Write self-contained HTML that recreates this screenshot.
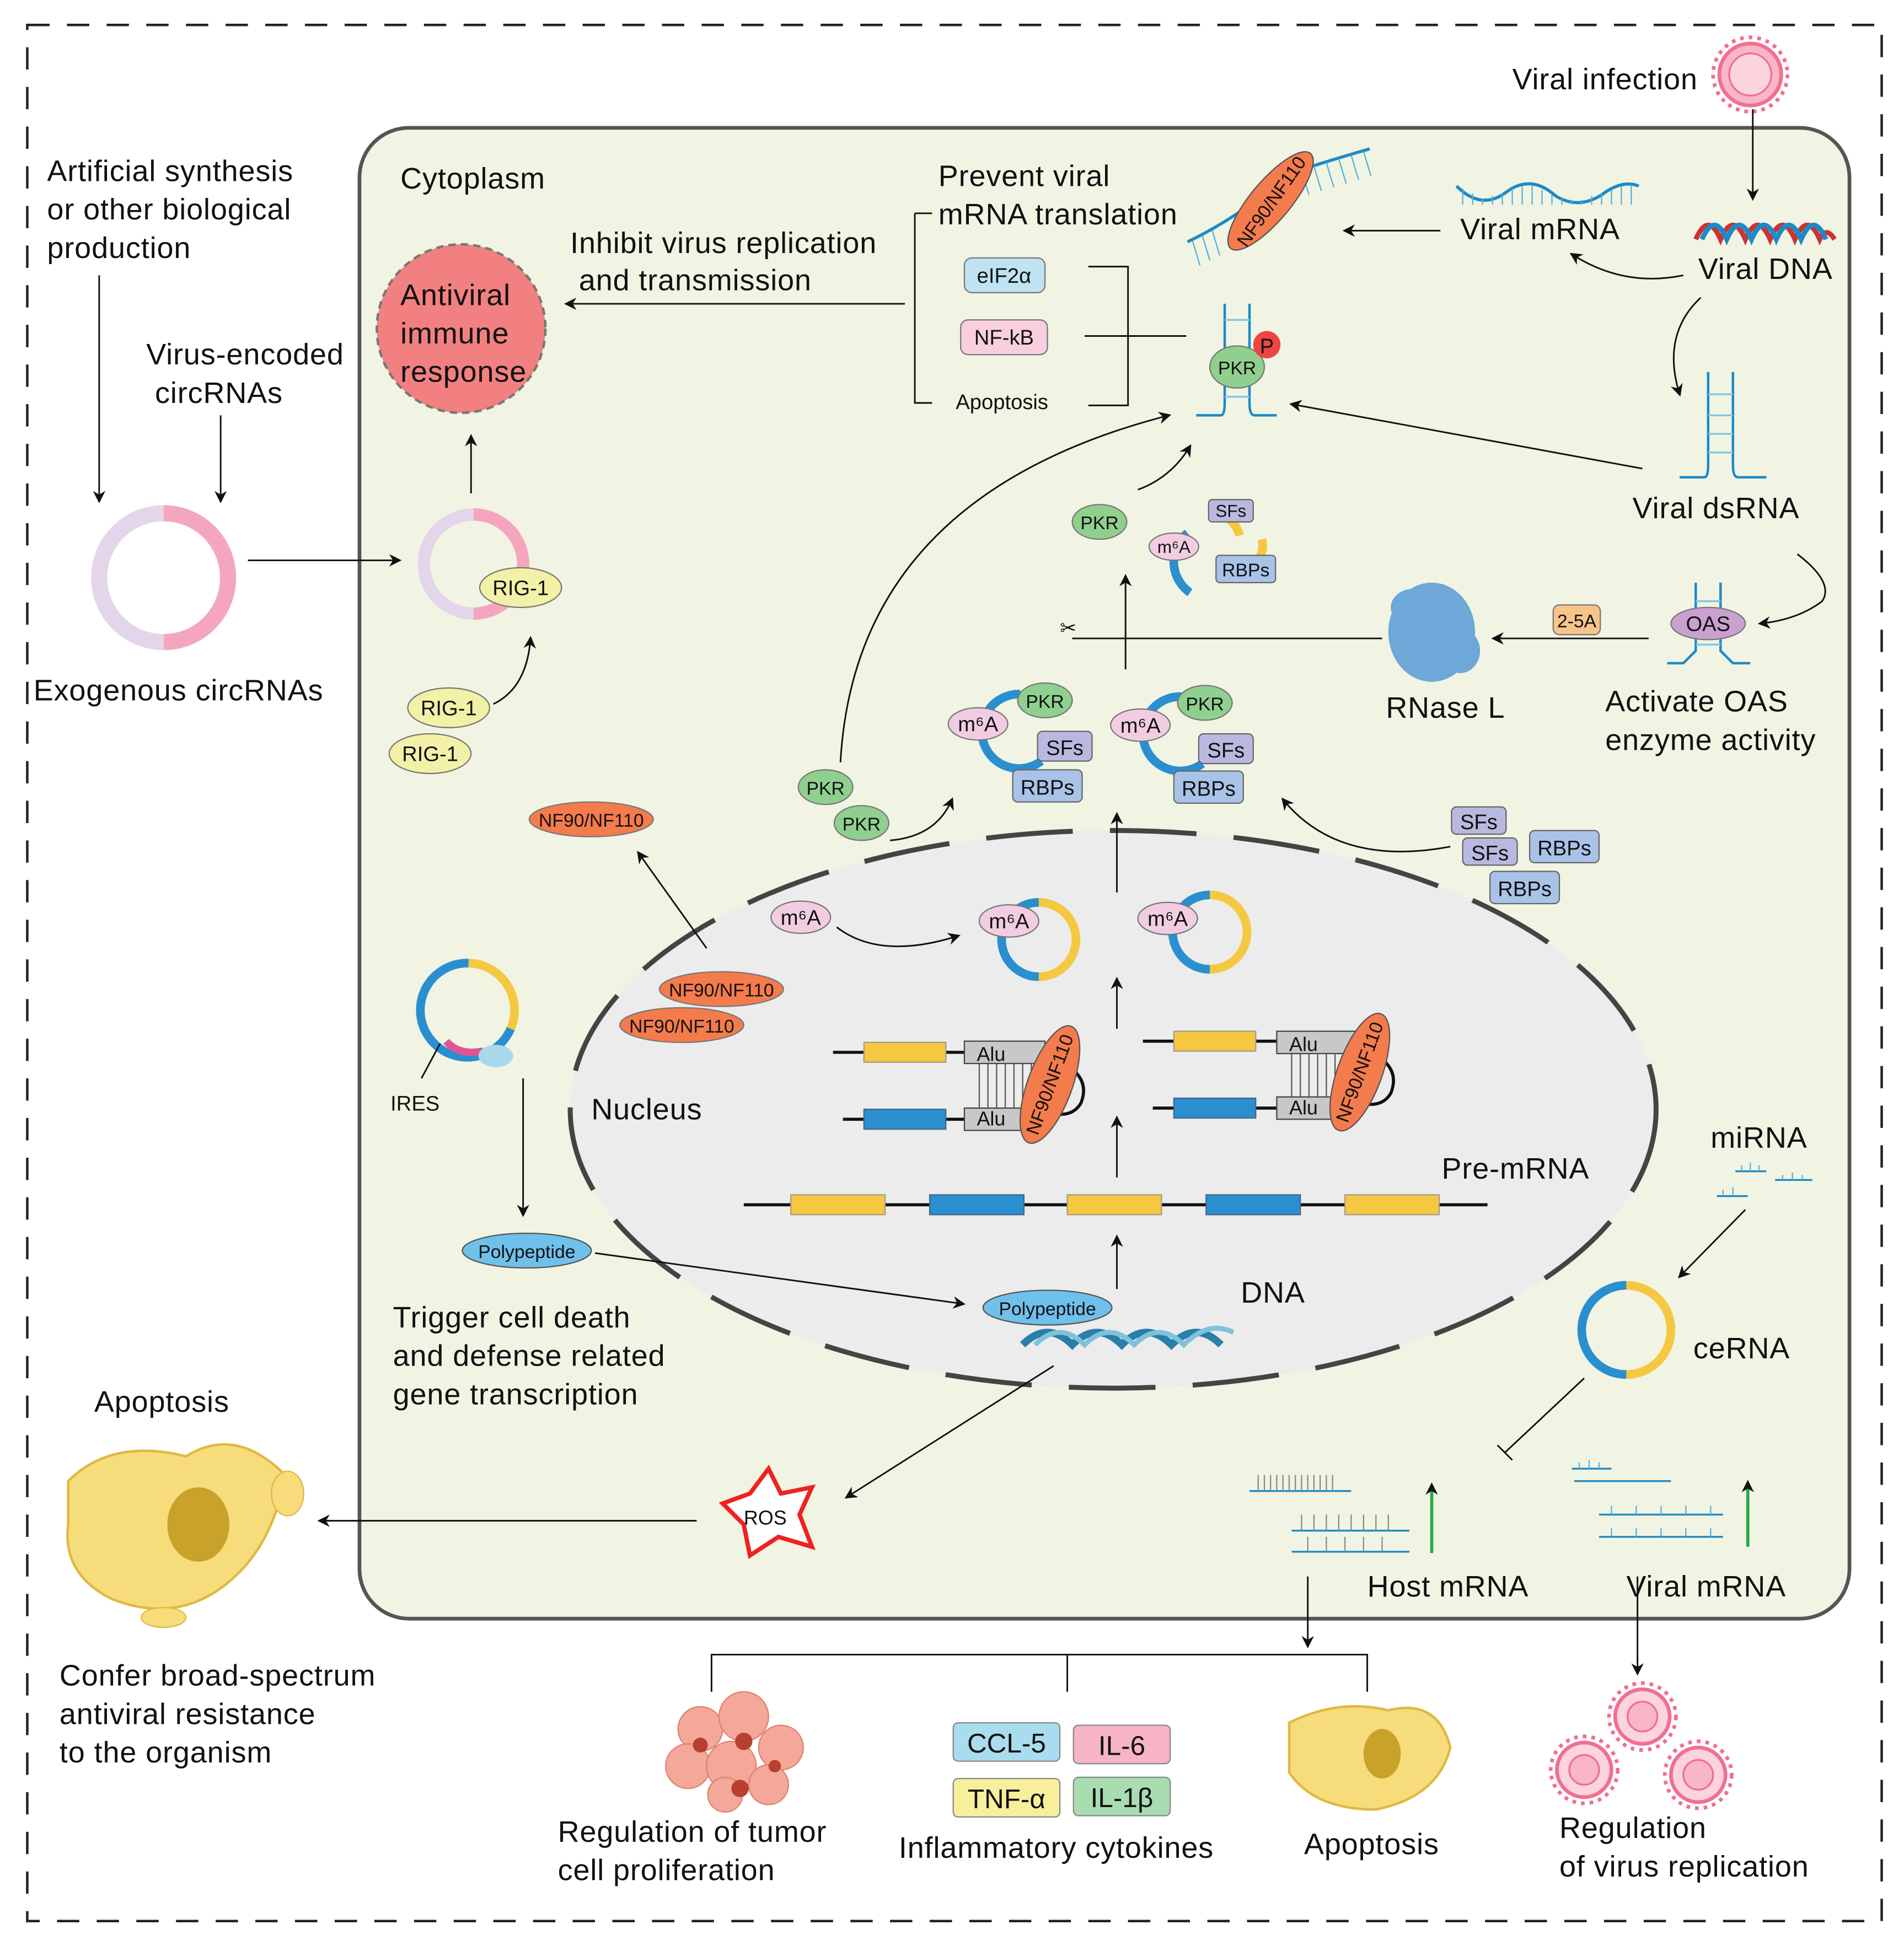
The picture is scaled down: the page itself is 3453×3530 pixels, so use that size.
<!DOCTYPE html>
<html><head><meta charset="utf-8"><style>
html,body{margin:0;padding:0;background:#fff}
svg{display:block}
text{font-family:"Liberation Sans",sans-serif;fill:#111}
.big text{font-size:24px;letter-spacing:0.4px}
</style></head><body>
<svg width="3453" height="3530" viewBox="0 0 1536 1570" xmlns="http://www.w3.org/2000/svg">
<defs>
<marker id="ar" markerWidth="10" markerHeight="10" refX="8" refY="5" orient="auto" markerUnits="userSpaceOnUse"><path d="M0,0 L10,5 L0,10 L3,5z" fill="#111"/></marker>
</defs>
<rect x="0" y="0" width="1536" height="1570" fill="#fff"/>
<rect x="22" y="20" width="1496" height="1530" fill="none" stroke="#222" stroke-width="2" stroke-dasharray="18,14"/>
<rect x="290" y="103" width="1202" height="1203" rx="40" fill="#f2f4e3" stroke="#555" stroke-width="3"/>
<ellipse cx="898" cy="895" rx="438" ry="225" fill="#ececec" stroke="#444" stroke-width="4" stroke-dasharray="70,30"/>

<g class="big">
<text x="38" y="146">Artificial synthesis</text>
<text x="38" y="177">or other biological</text>
<text x="38" y="208">production</text>
<text x="118" y="294">Virus-encoded</text>
<text x="125" y="325">circRNAs</text>
<text x="27" y="565">Exogenous circRNAs</text>
<text x="323" y="152">Cytoplasm</text>
<text x="460" y="204">Inhibit virus replication</text>
<text x="467" y="234">and transmission</text>
<text x="757" y="150">Prevent viral</text>
<text x="757" y="181">mRNA translation</text>
<text x="1220" y="72">Viral infection</text>
<text x="1178" y="193">Viral mRNA</text>
<text x="1370" y="225">Viral DNA</text>
<text x="1317" y="418">Viral dsRNA</text>
<text x="1118" y="579">RNase L</text>
<text x="1295" y="574">Activate OAS</text>
<text x="1295" y="605">enzyme activity</text>
<text x="477" y="903">Nucleus</text>
<text x="1163" y="951">Pre-mRNA</text>
<text x="1001" y="1051">DNA</text>
<text x="1380" y="926">miRNA</text>
<text x="1366" y="1096">ceRNA</text>
<text x="317" y="1071">Trigger cell death</text>
<text x="317" y="1102">and defense related</text>
<text x="317" y="1133">gene transcription</text>
<text x="76" y="1139">Apoptosis</text>
<text x="48" y="1360">Confer broad-spectrum</text>
<text x="48" y="1391">antiviral resistance</text>
<text x="48" y="1422">to the organism</text>
<text x="1103" y="1288">Host mRNA</text>
<text x="1312" y="1288">Viral mRNA</text>
<text x="450" y="1486">Regulation of tumor</text>
<text x="450" y="1517">cell proliferation</text>
<text x="725" y="1499">Inflammatory cytokines</text>
<text x="1052" y="1496">Apoptosis</text>
<text x="1258" y="1483">Regulation</text>
<text x="1258" y="1514">of virus replication</text>
</g>
<text x="771" y="330" font-size="17">Apoptosis</text>
<text x="315" y="896" font-size="17">IRES</text>

<circle cx="372" cy="265" r="68" fill="#f28080" stroke="#777" stroke-width="2" stroke-dasharray="6,4"/>
<g class="big"><text x="323" y="246">Antiviral</text><text x="323" y="277">immune</text><text x="323" y="308">response</text></g>

<path d="M132,414 A52,52 0 0,1 132,518" fill="none" stroke="#f4a6bf" stroke-width="13"/>
<path d="M132,518 A52,52 0 0,1 132,414" fill="none" stroke="#e3d6ea" stroke-width="13"/>
<path d="M382,415 A40,40 0 0,1 382,495" fill="none" stroke="#f4a6bf" stroke-width="10"/>
<path d="M382,495 A40,40 0 0,1 382,415" fill="none" stroke="#e3d6ea" stroke-width="10"/>
<line x1="80" y1="222" x2="80" y2="404" stroke="#111" stroke-width="1.3" marker-end="url(#ar)"/>
<line x1="178" y1="335" x2="178" y2="404" stroke="#111" stroke-width="1.3" marker-end="url(#ar)"/>
<line x1="200" y1="452" x2="322" y2="452" stroke="#111" stroke-width="1.3" marker-end="url(#ar)"/>
<line x1="380" y1="398" x2="380" y2="352" stroke="#111" stroke-width="1.3" marker-end="url(#ar)"/>
<line x1="730" y1="245" x2="457" y2="245" stroke="#111" stroke-width="1.3" marker-end="url(#ar)"/>
<path d="M398,568 Q425,555 428,515" fill="none" stroke="#111" stroke-width="1.3" marker-end="url(#ar)"/>

<g font-size="17" text-anchor="middle">
<ellipse cx="420" cy="474" rx="33" ry="16" fill="#f3f0a8" stroke="#777"/><text x="420" y="480">RIG-1</text>
<ellipse cx="362" cy="571" rx="33" ry="16" fill="#f3f0a8" stroke="#777"/><text x="362" y="577">RIG-1</text>
<ellipse cx="347" cy="608" rx="33" ry="16" fill="#f3f0a8" stroke="#777"/><text x="347" y="614">RIG-1</text>
<rect x="778" y="208" width="65" height="28" rx="6" fill="#bfe3f3" stroke="#777"/><text x="810" y="228">eIF2α</text>
<rect x="775" y="258" width="70" height="28" rx="6" fill="#f9cfe0" stroke="#777"/><text x="810" y="278">NF-kB</text>
<ellipse cx="477" cy="661" rx="50" ry="14" fill="#f47b4c" stroke="#777"/><text x="477" y="667" font-size="15">NF90/NF110</text>
<ellipse cx="582" cy="798" rx="50" ry="14" fill="#f47b4c" stroke="#777"/><text x="582" y="804" font-size="15">NF90/NF110</text>
<ellipse cx="550" cy="827" rx="50" ry="14" fill="#f47b4c" stroke="#777"/><text x="550" y="833" font-size="15">NF90/NF110</text>
<ellipse cx="887" cy="421" rx="22" ry="14" fill="#8fd08f" stroke="#777"/><text x="887" y="427" font-size="15">PKR</text>
<ellipse cx="666" cy="635" rx="22" ry="14" fill="#8fd08f" stroke="#777"/><text x="666" y="641" font-size="15">PKR</text>
<ellipse cx="695" cy="664" rx="22" ry="14" fill="#8fd08f" stroke="#777"/><text x="695" y="670" font-size="15">PKR</text>
<rect x="1253" y="488" width="38" height="24" rx="5" fill="#f8c48a" stroke="#777"/><text x="1272" y="506" font-size="15">2-5A</text>
<ellipse cx="425" cy="1009" rx="52" ry="14" fill="#6fc0ea" stroke="#555"/><text x="425" y="1015" font-size="15">Polypeptide</text>
<ellipse cx="646" cy="740" rx="24" ry="13" fill="#f2cde2" stroke="#777"/><text x="646" y="746">m⁶A</text>
</g>

<g stroke="#1d8ac7" stroke-width="2" fill="none">
<path d="M965,335 L985,335 Q988,335 988,325 L988,245 M1008,245 L1008,325 Q1008,335 1012,335 L1030,335"/>
<path d="M1355,385 L1375,385 Q1378,385 1378,375 L1378,300 M1398,300 L1398,375 Q1398,385 1402,385 L1425,385"/>
<path d="M1345,535 L1358,535 L1368,525 L1368,470 M1388,470 L1388,525 L1398,535 L1412,535"/>
</g>
<g stroke="#7cc8e6" stroke-width="1.5">
<line x1="988" y1="258" x2="1008" y2="258"/><line x1="988" y1="320" x2="1008" y2="320"/>
<line x1="1378" y1="318" x2="1398" y2="318"/><line x1="1378" y1="335" x2="1398" y2="335"/><line x1="1378" y1="350" x2="1398" y2="350"/><line x1="1378" y1="365" x2="1398" y2="365"/>
<line x1="1368" y1="485" x2="1388" y2="485"/><line x1="1368" y1="520" x2="1388" y2="520"/>
</g>
<ellipse cx="998" cy="296" rx="22" ry="17" fill="#8fd08f" stroke="#777"/><text x="998" y="302" font-size="15" text-anchor="middle">PKR</text>
<circle cx="1022" cy="278" r="11" fill="#ee4444"/><text x="1022" y="285" font-size="17" text-anchor="middle">P</text>
<ellipse cx="1378" cy="503" rx="30" ry="13" fill="#c9a0d0" stroke="#777"/><text x="1378" y="509" font-size="17" text-anchor="middle">OAS</text>

<path d="M1175,150 Q1195,170 1215,155 Q1235,140 1255,158 Q1275,170 1295,155 Q1310,145 1322,150" fill="none" stroke="#1d8ac7" stroke-width="2.5"/>
<g stroke="#4fb1dd" stroke-width="1"><path d="M1180,152V165 M1188,156V165 M1196,160V165 M1204,158V165 M1212,156V165 M1220,152V165 M1228,150V165 M1236,150V165 M1244,153V165 M1252,157V165 M1260,160V165 M1268,161V165 M1276,161V165 M1284,158V165 M1292,156V165 M1300,153V165 M1308,150V165 M1316,149V165"/></g>
<path d="M958,195 Q1000,175 1040,140 Q1070,130 1105,120" fill="none" stroke="#1d8ac7" stroke-width="2.5"/>
<g stroke="#4fb1dd" stroke-width="1"><path d="M962,194l6,20 M970,190l6,20 M978,186l6,20 M1050,137l6,20 M1060,134l6,20 M1070,131l6,20 M1080,128l6,20 M1090,125l6,20 M1100,122l6,20"/></g>
<ellipse cx="1025" cy="162" rx="16" ry="50" transform="rotate(40 1025 162)" fill="#f47b4c" stroke="#555"/>
<text x="1025" y="168" font-size="15" text-anchor="middle" transform="rotate(-55 1025 162)">NF90/NF110</text>
<path d="M1368,193 Q1378,170 1388,193 Q1398,170 1408,193 Q1418,170 1428,193 Q1438,170 1448,193 Q1458,170 1468,193 Q1473,182 1480,193" fill="none" stroke="#c33" stroke-width="4"/>
<path d="M1373,193 Q1383,170 1393,193 Q1403,170 1413,193 Q1423,170 1433,193 Q1443,170 1453,193 Q1463,170 1473,193" fill="none" stroke="#1d8ac7" stroke-width="4"/>
<g fill="none" stroke="#f07090" stroke-width="3" stroke-dasharray="3,4">
<circle cx="1412" cy="60" r="30"/><circle cx="1325" cy="1385" r="27"/><circle cx="1278" cy="1428" r="27"/><circle cx="1370" cy="1432" r="27"/>
</g>
<circle cx="1412" cy="60" r="25" fill="#f9b6c6" stroke="#f07090" stroke-width="3"/>
<circle cx="1412" cy="60" r="17" fill="#fcd4de" stroke="#f07090" stroke-width="1.5"/>
<g fill="#fcd4de" stroke="#f07090" stroke-width="3">
<circle cx="1325" cy="1385" r="22"/><circle cx="1278" cy="1428" r="22"/><circle cx="1370" cy="1432" r="22"/>
</g>
<g fill="#f9b6c6" stroke="#f07090" stroke-width="1.5"><circle cx="1325" cy="1385" r="12"/><circle cx="1278" cy="1428" r="12"/><circle cx="1370" cy="1432" r="12"/></g>

<g stroke="#111" stroke-width="1.3" fill="none">
<line x1="1414" y1="88" x2="1414" y2="160" marker-end="url(#ar)"/>
<line x1="1162" y1="186" x2="1085" y2="186" marker-end="url(#ar)"/>
<path d="M1358,222 Q1310,232 1268,205" marker-end="url(#ar)"/>
<path d="M1372,240 Q1340,270 1355,318" marker-end="url(#ar)"/>
<line x1="1325" y1="378" x2="1042" y2="326" marker-end="url(#ar)"/>
<path d="M1450,447 Q1480,470 1470,485 Q1450,500 1420,503" marker-end="url(#ar)"/>
<line x1="1330" y1="515" x2="1205" y2="515" marker-end="url(#ar)"/>
<line x1="1115" y1="515" x2="865" y2="515"/>
<path d="M738,172 L738,325 L752,325 M738,172 L752,172"/>
<path d="M878,215 L910,215 L910,327 L878,327 M875,271 L957,271"/>
<path d="M678,615 Q690,400 943,335" marker-end="url(#ar)"/>
<path d="M918,395 Q945,385 960,360" marker-end="url(#ar)"/>
<line x1="908" y1="540" x2="908" y2="465" marker-end="url(#ar)"/>
<line x1="901" y1="720" x2="901" y2="657" marker-end="url(#ar)"/>
<path d="M718,678 Q755,675 768,645" marker-end="url(#ar)"/>
<path d="M1170,683 Q1080,700 1035,645" marker-end="url(#ar)"/>
<line x1="570" y1="765" x2="515" y2="688" marker-end="url(#ar)"/>
<path d="M675,748 Q710,775 773,755" marker-end="url(#ar)"/>
<line x1="901" y1="830" x2="901" y2="790" marker-end="url(#ar)"/>
<line x1="901" y1="950" x2="901" y2="902" marker-end="url(#ar)"/>
<line x1="901" y1="1040" x2="901" y2="998" marker-end="url(#ar)"/>
<line x1="422" y1="870" x2="422" y2="980" marker-end="url(#ar)"/>
<line x1="480" y1="1011" x2="777" y2="1052" marker-end="url(#ar)"/>
<line x1="850" y1="1102" x2="683" y2="1208" marker-end="url(#ar)"/>
<line x1="562" y1="1227" x2="258" y2="1227" marker-end="url(#ar)"/>
<line x1="1408" y1="976" x2="1355" y2="1030" marker-end="url(#ar)"/>
<path d="M1278,1112 L1214,1172 M1208,1166 L1220,1178"/>
<line x1="1055" y1="1272" x2="1055" y2="1328" marker-end="url(#ar)"/>
<line x1="1321" y1="1272" x2="1321" y2="1350" marker-end="url(#ar)"/>
<path d="M574,1365 L574,1335 L1103,1335 L1103,1365 M861,1335 L861,1365"/>
</g>
<g stroke="#22aa44" stroke-width="2.5"><line x1="1155" y1="1253" x2="1155" y2="1198" marker-end="url(#ar)"/><line x1="1410" y1="1248" x2="1410" y2="1196" marker-end="url(#ar)"/></g>

<g fill="#6ea8d8"><ellipse cx="1155" cy="510" rx="35" ry="40"/><ellipse cx="1140" cy="490" rx="18" ry="15"/><ellipse cx="1178" cy="525" rx="16" ry="18"/></g>
<text x="855" y="512" font-size="16">✂</text>

<g fill="none" stroke-width="7">
<path d="M823,560 A30,30 0 1,0 840,614" stroke="#2a8fd0"/>
<path d="M953,562 A30,30 0 1,0 970,616" stroke="#2a8fd0"/>
<path d="M838,728 A30,30 0 0,1 838,788" stroke="#f5c842"/><path d="M838,788 A30,30 0 0,1 838,728" stroke="#2a8fd0"/>
<path d="M976,722 A30,30 0 0,1 976,782" stroke="#f5c842"/><path d="M976,782 A30,30 0 0,1 976,722" stroke="#2a8fd0"/>
<path d="M378,777 A38,38 0 0,1 412,830" stroke="#f5c842"/><path d="M412,830 A38,38 0 1,1 378,777" stroke="#2a8fd0"/>
<path d="M1312,1037 A36,36 0 0,1 1312,1109" stroke="#f5c842"/><path d="M1312,1109 A36,36 0 0,1 1312,1037" stroke="#2a8fd0"/>
<path d="M958,430 A30,30 0 0,0 960,478" stroke="#2a8fd0"/><path d="M985,415 A25,25 0 0,1 1000,432" stroke="#f5c842"/><path d="M1018,435 A20,20 0 0,1 1012,455" stroke="#f5c842"/>
</g>
<line x1="355" y1="842" x2="340" y2="870" stroke="#111" stroke-width="1.3"/>
<path d="M360,840 Q370,852 390,848" stroke="#e05590" stroke-width="6" fill="none"/>
<ellipse cx="400" cy="852" rx="14" ry="9" fill="#a8d8ea"/>

<g font-size="17" text-anchor="middle">
<ellipse cx="843" cy="565" rx="22" ry="14" fill="#8fd08f" stroke="#777"/><text x="843" y="571" font-size="15">PKR</text>
<ellipse cx="972" cy="567" rx="22" ry="14" fill="#8fd08f" stroke="#777"/><text x="972" y="573" font-size="15">PKR</text>
<ellipse cx="789" cy="584" rx="24" ry="13" fill="#f2cde2" stroke="#777"/><text x="789" y="590">m⁶A</text>
<ellipse cx="920" cy="585" rx="24" ry="13" fill="#f2cde2" stroke="#777"/><text x="920" y="591">m⁶A</text>
<ellipse cx="814" cy="743" rx="24" ry="13" fill="#f2cde2" stroke="#777"/><text x="814" y="749">m⁶A</text>
<ellipse cx="942" cy="741" rx="24" ry="13" fill="#f2cde2" stroke="#777"/><text x="942" y="747">m⁶A</text>
<ellipse cx="947" cy="441" rx="20" ry="11" fill="#f2cde2" stroke="#777"/><text x="947" y="446" font-size="14">m⁶A</text>
<rect x="837" y="590" width="44" height="24" rx="4" fill="#b9b9e0" stroke="#666"/><text x="859" y="609">SFs</text>
<rect x="967" y="592" width="44" height="24" rx="4" fill="#b9b9e0" stroke="#666"/><text x="989" y="611">SFs</text>
<rect x="817" y="621" width="56" height="26" rx="4" fill="#a9c3e8" stroke="#666"/><text x="845" y="641">RBPs</text>
<rect x="947" y="622" width="56" height="26" rx="4" fill="#a9c3e8" stroke="#666"/><text x="975" y="642">RBPs</text>
<rect x="975" y="403" width="36" height="18" rx="3" fill="#b9b9e0" stroke="#666"/><text x="993" y="417" font-size="14">SFs</text>
<rect x="981" y="448" width="48" height="22" rx="3" fill="#a9c3e8" stroke="#666"/><text x="1005" y="465" font-size="15">RBPs</text>
<rect x="1171" y="651" width="44" height="22" rx="4" fill="#b9b9e0" stroke="#666"/><text x="1193" y="669">SFs</text>
<rect x="1180" y="676" width="44" height="22" rx="4" fill="#b9b9e0" stroke="#666"/><text x="1202" y="694">SFs</text>
<rect x="1234" y="670" width="56" height="26" rx="4" fill="#a9c3e8" stroke="#666"/><text x="1262" y="690">RBPs</text>
<rect x="1202" y="703" width="56" height="26" rx="4" fill="#a9c3e8" stroke="#666"/><text x="1230" y="723">RBPs</text>
</g>

<g stroke="#111" stroke-width="2.5" fill="none">
<line x1="672" y1="849" x2="778" y2="849"/><line x1="680" y1="903" x2="778" y2="903"/>
<line x1="922" y1="840" x2="1030" y2="840"/><line x1="930" y1="894" x2="1030" y2="894"/>
<line x1="600" y1="972" x2="1200" y2="972"/>
<path d="M858,858 Q880,870 872,890 Q865,902 848,898"/><path d="M1108,850 Q1130,862 1122,882 Q1115,894 1098,890"/>
</g>
<g fill="#f5c842" stroke="#a98"><rect x="697" y="841" width="66" height="16"/><rect x="947" y="832" width="66" height="16"/>
<rect x="638" y="964" width="76" height="16"/><rect x="861" y="964" width="76" height="16"/><rect x="1085" y="964" width="76" height="16"/></g>
<g fill="#2a8fd0" stroke="#468"><rect x="697" y="895" width="66" height="16"/><rect x="947" y="886" width="66" height="16"/>
<rect x="750" y="964" width="76" height="16"/><rect x="973" y="964" width="76" height="16"/></g>
<g fill="#c8c8c8" stroke="#444"><rect x="778" y="840" width="65" height="18"/><rect x="778" y="894" width="65" height="18"/>
<rect x="1030" y="832" width="65" height="18"/><rect x="1030" y="885" width="65" height="18"/></g>
<g stroke="#555" stroke-width="1"><path d="M790,858V894 M797,858V894 M804,858V894 M811,858V894 M818,858V894 M825,858V894 M832,858V894 M1042,850V885 M1049,850V885 M1056,850V885 M1063,850V885 M1070,850V885 M1077,850V885 M1084,850V885"/></g>
<g font-size="16"><text x="788" y="856">Alu</text><text x="788" y="908">Alu</text><text x="1040" y="848">Alu</text><text x="1040" y="899">Alu</text></g>
<ellipse cx="847" cy="875" rx="18" ry="50" transform="rotate(20 847 875)" fill="#f47b4c" stroke="#555"/>
<text x="847" y="880" font-size="15" text-anchor="middle" transform="rotate(-70 847 875)">NF90/NF110</text>
<ellipse cx="1097" cy="865" rx="18" ry="50" transform="rotate(20 1097 865)" fill="#f47b4c" stroke="#555"/>
<text x="1097" y="870" font-size="15" text-anchor="middle" transform="rotate(-70 1097 865)">NF90/NF110</text>

<path d="M825,1085 Q845,1065 865,1085 Q885,1065 905,1085 Q925,1065 945,1085 Q965,1065 985,1085" fill="none" stroke="#2a7fa8" stroke-width="6"/>
<path d="M835,1085 Q855,1065 875,1085 Q895,1065 915,1085 Q935,1065 955,1085 Q975,1065 995,1075" fill="none" stroke="#7fc2dc" stroke-width="4"/>
<ellipse cx="845" cy="1055" rx="52" ry="14" fill="#6fc0ea" stroke="#555"/><text x="845" y="1061" font-size="15" text-anchor="middle">Polypeptide</text>

<path d="M620,1185 L630,1205 L655,1200 L645,1222 L655,1248 L628,1240 L605,1255 L600,1230 L583,1213 L605,1205 Z" fill="#fff" stroke="#e22" stroke-width="3.5"/>
<text x="600" y="1230" font-size="16">ROS</text>

<g stroke="#1d8ac7" stroke-width="1.5" fill="none">
<path d="M1400,945 h25 M1385,965 h25 M1432,952 h30"/>
<path d="M1008,1203 h82 M1042,1235 h95 M1042,1252 h95 M1268,1185 h32 M1270,1195 h78 M1290,1222 h100 M1290,1240 h100"/>
</g>
<g stroke="#4fb1dd" stroke-width="1"><path d="M1405,940V945 M1412,938V945 M1419,940V945 M1390,960V965 M1398,958V965 M1438,948V952 M1446,946V952 M1454,948V952 M1274,1180V1185 M1282,1178V1185 M1290,1180V1185 M1300,1215V1222 M1320,1215V1222 M1340,1215V1222 M1360,1215V1222 M1380,1215V1222 M1300,1233V1240 M1320,1233V1240 M1340,1233V1240 M1360,1233V1240 M1380,1233V1240"/></g>
<g stroke="#888" stroke-width="1"><path d="M1015,1190V1203 M1020,1190V1203 M1025,1190V1203 M1030,1190V1203 M1035,1190V1203 M1040,1190V1203 M1045,1190V1203 M1050,1190V1203 M1055,1190V1203 M1060,1190V1203 M1065,1190V1203 M1070,1190V1203 M1075,1190V1203 M1050,1222V1235 M1060,1222V1235 M1070,1222V1235 M1080,1222V1235 M1090,1222V1235 M1100,1222V1235 M1110,1222V1235 M1120,1222V1235 M1055,1240V1252 M1070,1240V1252 M1085,1240V1252 M1100,1240V1252 M1115,1240V1252"/></g>

<path d="M55,1195 Q90,1160 150,1175 Q190,1150 230,1190 Q220,1250 180,1280 Q140,1310 90,1290 Q50,1270 55,1230 Z" fill="#f6dc7a" stroke="#e0b840" stroke-width="2"/>
<ellipse cx="160" cy="1230" rx="25" ry="30" fill="#c9a22a"/>
<ellipse cx="232" cy="1205" rx="13" ry="18" fill="#f6dc7a" stroke="#e0b840"/>
<ellipse cx="132" cy="1305" rx="18" ry="8" fill="#f6dc7a" stroke="#e0b840"/>
<path d="M1040,1390 Q1080,1370 1120,1380 Q1160,1370 1170,1410 Q1160,1450 1110,1460 Q1060,1460 1040,1430 Z" fill="#f6dc7a" stroke="#e0b840" stroke-width="2"/>
<ellipse cx="1115" cy="1415" rx="15" ry="20" fill="#c9a22a"/>
<g fill="#f4a89a" stroke="#e08070">
<circle cx="565" cy="1395" r="18"/><circle cx="600" cy="1385" r="20"/><circle cx="630" cy="1410" r="18"/><circle cx="555" cy="1425" r="18"/><circle cx="590" cy="1425" r="20"/><circle cx="620" cy="1440" r="16"/><circle cx="585" cy="1448" r="14"/>
</g>
<g fill="#b84030"><circle cx="565" cy="1408" r="6"/><circle cx="600" cy="1405" r="7"/><circle cx="597" cy="1443" r="7"/><circle cx="625" cy="1425" r="5"/></g>

<g font-size="22" text-anchor="middle">
<rect x="769" y="1390" width="86" height="31" rx="4" fill="#a9dcee" stroke="#888"/><text x="812" y="1414">CCL-5</text>
<rect x="866" y="1392" width="78" height="31" rx="4" fill="#f6b4c4" stroke="#888"/><text x="905" y="1416">IL-6</text>
<rect x="769" y="1435" width="86" height="31" rx="4" fill="#f8ef9c" stroke="#888"/><text x="812" y="1459">TNF-α</text>
<rect x="866" y="1434" width="78" height="31" rx="4" fill="#a9dcb0" stroke="#888"/><text x="905" y="1458">IL-1β</text>
</g>
</svg>
</body></html>
